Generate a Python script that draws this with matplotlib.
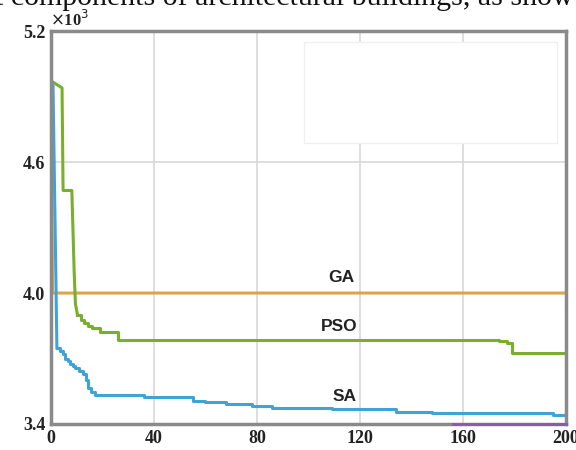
import numpy as np
import matplotlib
matplotlib.use("Agg")
import matplotlib.pyplot as plt
from matplotlib.patches import Rectangle

# iteration / fitness (x10^3)
# first part of each curve is drawn as straight segments, the rest as steps (post)
ga_x = [0, 0.6, 200]
ga_y = [4.97, 4.0, 4.0]

pso_head_x = [0.3, 4.3, 4.7, 8.1, 9.0, 9.5, 10.3]
pso_head_y = [4.97, 4.94, 4.47, 4.47, 4.10, 3.95, 3.90]
pso_x = [10.3, 11.5, 13.0, 14.5, 16.0, 19.0, 26.0, 95.0, 174.0, 177.0, 179.0, 200.0]
pso_y = [3.90, 3.875, 3.862, 3.85, 3.838, 3.82, 3.785, 3.783, 3.78, 3.772, 3.725, 3.725]

sa_head_x = [0.3, 0.8, 2.3]
sa_head_y = [4.97, 4.95, 3.748]
sa_x = [2.3, 3.5, 4.5, 5.5, 6.5, 7.5, 8.5, 9.5, 11.0, 12.5, 13.5, 14.3, 15.5,
        17.0, 36.0, 55.0, 60.0, 68.0, 78.0, 86.0, 109.0, 134.0, 148.0, 195.0, 200.0]
sa_y = [3.748, 3.735, 3.72, 3.70, 3.69, 3.675, 3.665, 3.655, 3.645, 3.63, 3.60, 3.565, 3.548,
        3.535, 3.522, 3.505, 3.50, 3.49, 3.483, 3.473, 3.468, 3.457, 3.45, 3.44, 3.44]

extra_x = [156, 200]
extra_y = [3.401, 3.401]

labels = ["GA", "PSO", "SA"]
label_pos = [(112.6, 4.07), (112, 3.845), (114, 3.525)]

xticks = [0, 40, 80, 120, 160, 200]
yticks = [3.4, 4.0, 4.6, 5.2]

fig = plt.figure(figsize=(5.76, 4.5), dpi=100)
ax = fig.add_axes([0.0885, 0.0578, 0.894, 0.873])

green = "#78b02c"
blue = "#3fa3d8"
ax.plot(ga_x, ga_y, color="#dca44c", lw=2.2)
ax.plot(pso_head_x, pso_head_y, color=green, lw=2.2)
ax.step(pso_x, pso_y, where="post", color=green, lw=2.2)
ax.plot(sa_head_x, sa_head_y, color=blue, lw=2.2)
ax.step(sa_x, sa_y, where="post", color=blue, lw=2.2)
ax.plot(extra_x, extra_y, color="#8a5aa8", lw=2.0, clip_on=False, zorder=3)

for t, (x, y) in zip(labels, label_pos):
    ax.text(x, y, t, ha="center", va="center", fontsize=12.5, fontweight="bold",
            family="Liberation Sans", color="#222222")

ax.set_xlim(0, 200)
ax.set_ylim(3.4, 5.2)
ax.set_xticks(xticks)
ax.set_yticks(yticks)
ax.set_xticklabels([str(v) for v in xticks])
ax.set_yticklabels([f"{v:.1f}" for v in yticks])
for lab in ax.get_xticklabels() + ax.get_yticklabels():
    lab.set_family("Liberation Serif")
    lab.set_fontsize(13)
    lab.set_fontweight("bold")
    lab.set_color("#222222")
ax.tick_params(length=0, pad=4)
ax.grid(color="#d8d8d8", lw=1.2)
ax.set_axisbelow(True)
for s in ax.spines.values():
    s.set_color("#8a8a8a")
    s.set_linewidth(2.5)

# faint empty legend box
ax.add_patch(Rectangle((0.492, 0.715), 0.49, 0.258, transform=ax.transAxes,
                       fill=True, facecolor="white", edgecolor="#f0f0f0", lw=1, zorder=1))

fig.text(0.087, 1 - 26 / 450, r"$\times$10$^3$", family="Liberation Serif", fontsize=12,
         fontweight="bold", color="#222222", va="baseline")
fig.text(-0.008, 1 - 5 / 450, "t components of architectural buildings, as show",
         family="Liberation Serif", fontsize=21.5, va="baseline", color="#111111")

fig.savefig("out.png", dpi=100)
